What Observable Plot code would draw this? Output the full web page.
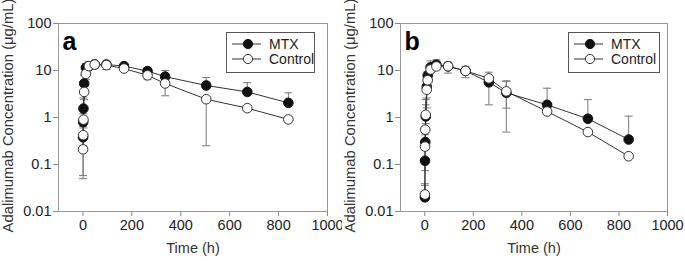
<!DOCTYPE html>
<html>
<head>
<meta charset="utf-8">
<script src="https://cdn.jsdelivr.net/npm/d3@7"></script>
<script src="https://cdn.jsdelivr.net/npm/@observablehq/plot@0.6"></script>
<style>
  html, body { margin: 0; padding: 0; background: #fff; }
  body { width: 685px; height: 261px; overflow: hidden; font-family: "Liberation Sans", Arial, sans-serif; }
  #wrap { display: flex; }
  .panel { position: relative; }
  .panel > svg { overflow: visible; }
  .legend { position: absolute; border: 1px solid #555; background: #fff; font-size: 14px; color: #222; box-sizing: border-box; }
  .legend .row { position: absolute; left: 0; height: 16px; display: flex; align-items: center; }
  .legend svg { display: block; }
  .legend span { margin-left: 8px; line-height: 16px; }
</style>
</head>
<body>
<div id="wrap"></div>
<script>
// ---- data ----
const seriesNames = ["MTX", "Control"];
const panelLabels = ["a", "b"];
const xTicks = [0, 200, 400, 600, 800, 1000];
const yTicks = [0.01, 0.1, 1, 10, 100];

// Panel a
const timesA = [0.5, 1, 2, 5, 12, 24, 48, 96, 168, 264, 336, 504, 672, 840];
const mtxA    = [0.38, 0.8, 1.55, 5.3, 11.5, 12.2, 13.5, 13.4, 12.4, 9.7, 7.4, 4.8, 3.5, 2.05];
const mtxAlo  = [0.058, null, null, null, null, null, null, null, null, null, null, null, null, null];
const mtxAhi  = [0.65, 1.2, 2.6, 8.0, 14, 15.5, 15.5, 15, 13.8, 11.7, 10, 7.1, 5.5, 3.35];
const ctrlA   = [0.21, 0.42, 0.9, 3.5, 8.5, 12.4, 13.4, 13, 11, 7.9, 5.3, 2.45, 1.58, 0.91];
const ctrlAlo = [0.05, 0.25, 0.6, 2.4, 6.5, 11, 11.2, 10.5, 10, 6.4, 2.9, 0.25, 1.4, 0.85];
const ctrlAhi = [null, null, null, null, null, null, null, null, null, null, null, null, null, null];

// Panel b
const timesB = [0.5, 1, 2, 4, 8, 12, 24, 48, 96, 168, 264, 336, 504, 672, 840];
const mtxB    = [0.02, 0.12, 0.3, 1.05, 4.5, 7.8, 11.7, 13.3, 12.3, 9.8, 5.6, 3.35, 1.86, 0.94, 0.34];
const mtxBlo  = [null, 0.074, null, null, 1.6, null, 9, 10.4, 8.8, 7, 1.86, 1.58, null, null, null];
const mtxBhi  = [0.036, null, 0.43, 1.86, null, 9.5, 16, 16.9, 15, 12.3, null, 5.9, 4.2, 2.4, 1.07];
const ctrlB   = [0.023, 0.24, 0.55, 1.14, 3.9, 6.2, 10.5, 12.2, 12.3, 9.8, 6.8, 3.6, 1.34, 0.49, 0.15];
const ctrlBlo = [null, null, null, 0.74, 2.6, null, null, null, null, null, null, 0.49, null, null, null];
const ctrlBhi = [0.039, null, 0.64, 2.4, null, 8.8, null, null, null, null, 9.2, 6, null, null, null];

// ---- build ----
const panels = [
  {label: panelLabels[0], t: timesA, mtx: mtxA, mtxLo: mtxAlo, mtxHi: mtxAhi, ctrl: ctrlA, ctrlLo: ctrlAlo, ctrlHi: ctrlAhi, width: 342, mr: 15},
  {label: panelLabels[1], t: timesB, mtx: mtxB, mtxLo: mtxBlo, mtxHi: mtxBhi, ctrl: ctrlB, ctrlLo: ctrlBlo, ctrlHi: ctrlBhi, width: 343, mr: 18}
];

const capSymbol = { draw(ctx) { ctx.moveTo(-4, 0); ctx.lineTo(4, 0); } };
const FONT = "Liberation Sans, Arial, sans-serif";
const fmt = d => String(d);

function rows(p) {
  const out = [];
  p.t.forEach((t, i) => {
    out.push({series: seriesNames[0], t, v: p.mtx[i], lo: p.mtxLo[i], hi: p.mtxHi[i]});
  });
  p.t.forEach((t, i) => {
    out.push({series: seriesNames[1], t, v: p.ctrl[i], lo: p.ctrlLo[i], hi: p.ctrlHi[i]});
  });
  return out;
}

const wrap = document.getElementById("wrap");
panels.forEach(p => {
  const data = rows(p);
  const bars = [];
  data.forEach(d => {
    if (d.hi != null) bars.push({t: d.t, y1: d.v, y2: d.hi});
    if (d.lo != null) bars.push({t: d.t, y1: d.v, y2: d.lo});
  });
  const caps = bars.map(b => ({t: b.t, y: b.y2}));
  const mtx = data.filter(d => d.series === seriesNames[0]);
  const ctrl = data.filter(d => d.series === seriesNames[1]);

  const chart = Plot.plot({
    width: p.width,
    height: 261,
    marginLeft: 58,
    marginRight: p.mr,
    marginTop: 23,
    marginBottom: 50,
    style: {fontFamily: FONT, fontSize: "14.5px", color: "#222", background: "#fff", overflow: "visible"},
    x: {domain: [-100, 1000], ticks: xTicks, tickFormat: fmt, label: null},
    y: {type: "log", domain: [0.01, 100], ticks: yTicks, tickFormat: fmt, label: null},
    marks: [
      Plot.axisX({ticks: xTicks, tickFormat: fmt, tickSize: 5, tickPadding: 3, stroke: "#888", label: null}),
      Plot.axisY({ticks: yTicks, tickFormat: fmt, tickSize: 5, tickPadding: 2, stroke: "#888", label: null}),
      Plot.frame({stroke: "#999"}),
      Plot.ruleX(bars, {x: "t", y1: "y1", y2: "y2", stroke: "#777", strokeWidth: 1}),
      Plot.dot(caps, {x: "t", y: "y", symbol: capSymbol, stroke: "#777", strokeWidth: 1, fill: "none"}),
      Plot.line(mtx, {x: "t", y: "v", stroke: "#333", strokeWidth: 1}),
      Plot.line(ctrl, {x: "t", y: "v", stroke: "#333", strokeWidth: 1}),
      Plot.dot(mtx, {x: "t", y: "v", r: 4.8, fill: "#111", stroke: "#111", strokeWidth: 1}),
      Plot.dot(ctrl, {x: "t", y: "v", r: 4.8, fill: "#fff", stroke: "#333", strokeWidth: 1}),
      Plot.text([p.label], {frameAnchor: "top-left", dx: 4, dy: 18, text: d => d, fontSize: 25, fontWeight: "bold", fill: "#000", lineAnchor: "middle", textAnchor: "start"}),
      Plot.text(["Adalimumab Concentration (μg/mL)"], {frameAnchor: "left", dx: -50, dy: -2, text: d => d, rotate: -90, textAnchor: "middle", lineAnchor: "middle", fontSize: 14.8, fill: "#333"}),
      Plot.text(["Time (h)"], {frameAnchor: "bottom", dy: 37, text: d => d, textAnchor: "middle", lineAnchor: "middle", fontSize: 14.5, fill: "#333"})
    ]
  });

  const div = document.createElement("div");
  div.className = "panel";
  div.style.width = p.width + "px";
  div.appendChild(chart);

  const lg = document.createElement("div");
  lg.className = "legend";
  lg.style.left = "226px";
  lg.style.top = "32px";
  lg.style.width = (p.width === 342 ? 89 : 92) + "px";
  lg.style.height = "41px";
  seriesNames.forEach((name, i) => {
    const row = document.createElement("div");
    row.className = "row";
    row.style.top = (i === 0 ? 3 : 18) + "px";
    row.style.left = "5px";
    const filled = i === 0;
    row.innerHTML = `<svg width="29" height="16"><line x1="0" x2="29" y1="8" y2="8" stroke="#333" stroke-width="1"/><circle cx="16" cy="8" r="4.6" fill="${filled ? '#111' : '#fff'}" stroke="${filled ? '#111' : '#333'}"/></svg><span>${name}</span>`;
    lg.appendChild(row);
  });
  div.appendChild(lg);
  wrap.appendChild(div);
});
</script>
</body>
</html>
